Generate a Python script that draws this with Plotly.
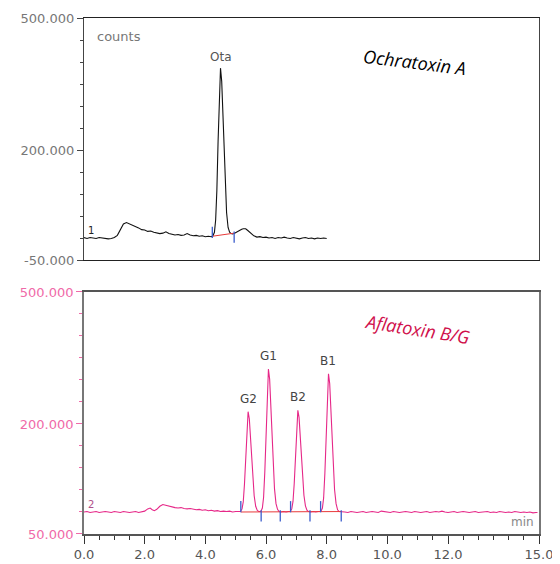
import plotly.graph_objects as go

# ---------------- data ----------------
# Ochratoxin A chromatogram (top), time in min, signal in counts (x1000)
OTA_T = [0.0, 0.1, 0.2, 0.3, 0.4, 0.5, 0.6, 0.7, 0.8, 0.9, 1.0, 1.1, 1.2, 1.3, 1.4, 1.5,
         1.6, 1.7, 1.8, 1.9, 2.0, 2.1, 2.2, 2.3, 2.4, 2.5, 2.6, 2.7, 2.8, 2.9, 3.0, 3.1,
         3.2, 3.3, 3.4, 3.5, 3.6, 3.7, 3.8, 3.9, 4.0, 4.1, 4.2, 4.25, 4.30, 4.34, 4.38,
         4.42, 4.46, 4.50, 4.54, 4.58, 4.62, 4.66, 4.70, 4.75, 4.80, 4.85, 4.90, 4.95,
         5.00, 5.05, 5.10, 5.15, 5.20, 5.25, 5.33, 5.40, 5.50, 5.60, 5.70, 5.80, 5.90,
         6.0, 6.1, 6.2, 6.3, 6.4, 6.5, 6.6, 6.7, 6.8, 6.9, 7.0, 7.1, 7.2, 7.3, 7.4, 7.5,
         7.6, 7.7, 7.8, 7.9, 8.0]
OTA_V = [1, -1, 1, 0, -1, 1, 0, -1, -2, -1, 1, 6, 19, 32, 35, 32,
         30, 26, 23, 19, 18, 15, 16, 13, 12, 10, 11, 14, 10, 9, 7, 8,
         6, 7, 10, 7, 5, 6, 4, 5, 3, 4, 3, 5, 13, 41, 108,
         219, 334, 386, 356, 281, 191, 111, 58, 24, 13, 10, 9, 10,
         12, 14, 17, 19, 20, 21, 21, 17, 10, 5, 2, 3, 1,
         2, 0, 1, -1, 1, 0, 2, 0, -1, 1, 0, -2, 0, 1, -1, 0,
         -2, 0, -1, 0, -1]

# Aflatoxin B/G chromatogram (bottom)
AFL_T = [0.0, 0.1, 0.2, 0.3, 0.4, 0.5, 0.6, 0.7, 0.8, 0.9, 1.0, 1.1, 1.2, 1.3, 1.4, 1.5,
         1.6, 1.7, 1.8, 1.9, 2.0, 2.1, 2.18, 2.25, 2.32, 2.4, 2.5, 2.6, 2.7, 2.8, 2.9,
         3.0, 3.1, 3.2, 3.3, 3.4, 3.5, 3.6, 3.7, 3.8, 3.9, 4.0, 4.1, 4.2, 4.3, 4.4, 4.5,
         4.6, 4.7, 4.8, 4.9, 5.0, 5.1,
         5.16, 5.21, 5.25, 5.29, 5.33, 5.37, 5.41, 5.45, 5.49, 5.53, 5.57, 5.61, 5.66,
         5.71, 5.76,
         5.83, 5.88, 5.92, 5.96, 6.00, 6.04, 6.08, 6.12, 6.16, 6.20, 6.24, 6.28, 6.33,
         6.38, 6.43, 6.50, 6.58, 6.66, 6.74,
         6.80, 6.85, 6.89, 6.93, 6.97, 7.01, 7.05, 7.09, 7.13, 7.17, 7.21, 7.25, 7.30,
         7.35, 7.40, 7.48, 7.56, 7.64, 7.72,
         7.81, 7.86, 7.90, 7.94, 7.98, 8.02, 8.06, 8.10, 8.14, 8.18, 8.22, 8.26, 8.31,
         8.36, 8.41, 8.5,
         8.6, 8.7, 8.8, 8.9, 9.0, 9.1, 9.2, 9.3, 9.4, 9.5, 9.6, 9.7, 9.8, 9.9, 10.0,
         10.1, 10.2, 10.3, 10.4, 10.5, 10.6, 10.7, 10.8, 10.9, 11.0, 11.1, 11.2, 11.3,
         11.4, 11.5, 11.6, 11.7, 11.8, 11.9, 12.0, 12.1, 12.2, 12.3, 12.4, 12.5, 12.6,
         12.7, 12.8, 12.9, 13.0, 13.1, 13.2, 13.3, 13.4, 13.5, 13.6, 13.7, 13.8, 13.9,
         14.0, 14.1, 14.2, 14.3, 14.4, 14.5, 14.6, 14.7, 14.8, 14.9, 14.95]
AFL_V = [0, 1, -1, 0, 1, -1, 0, 1, 0, -1, 1, 0, -1, 1, 0, -1,
         0, 1, -1, 0, 2, 7, 9, 5, 3, 6, 13, 17, 15, 13, 11,
         10, 9, 10, 8, 7, 8, 6, 5, 6, 4, 5, 3, 4, 2, 3, 1,
         2, 1, 2, 0, 1, 0,
         1, 7, 23, 63, 129, 198, 228, 212, 171, 119, 71, 37, 13,
         4, 1,
         1, 9, 33, 90, 184, 282, 325, 302, 243, 169, 102, 53, 19,
         6, 1, 0, 1, 0, 1,
         1, 7, 24, 64, 131, 200, 231, 215, 173, 120, 72, 38, 14,
         4, 1, 0, 1, 0, 1,
         1, 9, 32, 87, 178, 272, 314, 292, 235, 163, 98, 51, 19,
         5, 1, 1,
         0, -1, 1, 0, -1, 0, 1, -1, 0, 1, 0, -1, 2, 1, 0,
         -1, 1, 0, -1, 0, 1, 0, -1, 1, 0, -1, 0, 1,
         -1, 0, 1, 0, 2, 0, -1, 0, 1, -1, 0, 1, 0,
         -1, 0, 1, -1, 0, 0, 1, -1, 0, -1, 1, 0, -1,
         0, -1, 1, 0, -1, 0, -1, 0, -2, -1, -1]

# integration marks (peak start / end times) and baselines
OTA_STARTS = [4.23]
OTA_ENDS = [4.95]
OTA_BASE_T = [4.23, 4.95]
OTA_BASE_V = [4, 11]

AFL_STARTS = [5.17, 6.81, 7.80]
AFL_ENDS = [5.84, 6.47, 7.45, 8.48]
AFL_BASE_T = [5.17, 8.48]
AFL_BASE_V = [0, 1]

# peak labels
OTA_PEAK = ("Ota", 4.51, 386)
AFL_PEAKS = [("G2", 5.41, 228), ("G1", 6.08, 325), ("B2", 7.05, 231), ("B1", 8.06, 314)]

Y_TICKVALS = [500, 200, -50]
TOP_TICKTEXT = ["500.000", "200.000", "-50.000"]
BOT_TICKTEXT = ["500.000", "200.000", "50.000"]
X_TICKVALS = [0, 2, 4, 6, 8, 10, 12, 15]
X_TICKTEXT = ["0.0", "2.0", "4.0", "6.0", "8.0", "10.0", "12.0", "15.0"]

# ---------------- styling ----------------
BLACK = "#111111"
PINK = "#e62888"
PINK_LABEL = "#f06aa8"
BLUE = "#3a5ccc"
RED = "#e83a3a"
FONT = "DejaVu Sans"
MARK_OFF = 9

fig = go.Figure()

# top chromatogram
fig.add_trace(go.Scatter(x=OTA_T, y=OTA_V, mode="lines", line=dict(color=BLACK, width=1.1),
                         xaxis="x", yaxis="y", showlegend=False, hoverinfo="skip"))
fig.add_trace(go.Scatter(x=OTA_BASE_T, y=OTA_BASE_V, mode="lines", line=dict(color=RED, width=1),
                         xaxis="x", yaxis="y", showlegend=False))
fig.add_trace(go.Scatter(x=OTA_STARTS, y=[v + MARK_OFF for v in OTA_BASE_V[:1]], mode="markers",
                         marker=dict(symbol="line-ns", size=8, line=dict(color=BLUE, width=1.3)),
                         xaxis="x", yaxis="y", showlegend=False))
fig.add_trace(go.Scatter(x=OTA_ENDS, y=[v - MARK_OFF for v in OTA_BASE_V[1:]], mode="markers",
                         marker=dict(symbol="line-ns", size=8, line=dict(color=BLUE, width=1.3)),
                         xaxis="x", yaxis="y", showlegend=False))

# bottom chromatogram
fig.add_trace(go.Scatter(x=AFL_T, y=AFL_V, mode="lines", line=dict(color=PINK, width=1.1),
                         xaxis="x2", yaxis="y2", showlegend=False, hoverinfo="skip"))
fig.add_trace(go.Scatter(x=AFL_BASE_T, y=AFL_BASE_V, mode="lines", line=dict(color=RED, width=1),
                         xaxis="x2", yaxis="y2", showlegend=False))
fig.add_trace(go.Scatter(x=AFL_STARTS, y=[MARK_OFF + 3] * len(AFL_STARTS), mode="markers",
                         marker=dict(symbol="line-ns", size=8, line=dict(color=BLUE, width=1.3)),
                         xaxis="x2", yaxis="y2", showlegend=False))
fig.add_trace(go.Scatter(x=AFL_ENDS, y=[-MARK_OFF] * len(AFL_ENDS), mode="markers",
                         marker=dict(symbol="line-ns", size=8, line=dict(color=BLUE, width=1.3)),
                         xaxis="x2", yaxis="y2", showlegend=False))

annotations = []
annotations.append(dict(text=OTA_PEAK[0], x=OTA_PEAK[1], y=OTA_PEAK[2], xref="x", yref="y",
                        yanchor="bottom", yshift=2, showarrow=False,
                        font=dict(family=FONT, size=12, color="#555555")))
for name, t, v in AFL_PEAKS:
    annotations.append(dict(text=name, x=t, y=v, xref="x2", yref="y2", yanchor="bottom",
                            yshift=4, showarrow=False,
                            font=dict(family=FONT, size=12, color="#444444")))
annotations += [
    dict(text="counts", x=0.35, y=458, xref="x", yref="y", xanchor="left", showarrow=False,
         font=dict(family=FONT, size=13, color="#777777")),
    dict(text="1", x=0.05, y=17, xref="x", yref="y", xanchor="left", showarrow=False,
         font=dict(family=FONT, size=10, color="#222222")),
    dict(text="2", x=0.05, y=16, xref="x2", yref="y2", xanchor="left", showarrow=False,
         font=dict(family=FONT, size=10, color="#b0508a")),
    dict(text="min", x=14.45, y=-23, xref="x2", yref="y2", showarrow=False,
         font=dict(family=FONT, size=12, color="#888888")),
    dict(text="<i>Ochratoxin A</i>", x=10.9, y=399, xref="x", yref="y", showarrow=False,
         textangle=7, font=dict(family="Open Sans", size=18, color="#000000")),
    dict(text="<i>Aflatoxin B/G</i>", x=10.99, y=416, xref="x2", yref="y2", showarrow=False,
         textangle=9, font=dict(family="Open Sans", size=18, color="#d0104c")),
]

# the page body adds an 8px offset, so the figure is 8px smaller and margins shifted
fig.update_layout(
    width=552, height=556,
    margin=dict(l=76, r=21, t=10, b=30, autoexpand=False),
    paper_bgcolor="white", plot_bgcolor="white",
    font=dict(family=FONT, size=13, color="#666666"),
    showlegend=False,
    annotations=annotations,
    xaxis=dict(domain=[0, 1], range=[0, 15], anchor="y", showticklabels=False, ticks="",
               showline=True, linecolor="#222222", linewidth=1, mirror=True,
               showgrid=False, zeroline=False, automargin=False),
    yaxis=dict(domain=[0.531, 1.0], range=[-50, 500], anchor="x", automargin=False,
               tickmode="array", tickvals=Y_TICKVALS, ticktext=TOP_TICKTEXT,
               ticks="outside", ticklen=6, tickcolor="#444444", tickwidth=1,
               minor=dict(tickmode="linear", tick0=0, dtick=50, ticks="outside",
                          ticklen=3, tickcolor="#444444"),
               tickfont=dict(family=FONT, size=13, color="#777777"),
               showline=True, linecolor="#444444", linewidth=1.2, mirror=True,
               showgrid=False, zeroline=False),
    xaxis2=dict(domain=[0, 1], range=[0, 15], anchor="y2", automargin=False,
                tickmode="array", tickvals=X_TICKVALS, ticktext=X_TICKTEXT,
                ticks="outside", ticklen=8, tickcolor="#333333", tickwidth=1,
                minor=dict(tickmode="linear", tick0=0, dtick=0.5, ticks="outside",
                           ticklen=4, tickcolor="#333333"),
                tickfont=dict(family=FONT, size=13, color="#555555"),
                showline=True, linecolor="#555555", linewidth=1.5, mirror=True,
                showgrid=False, zeroline=False),
    yaxis2=dict(domain=[0, 0.469], range=[-50, 500], anchor="x2", automargin=False,
                tickmode="array", tickvals=Y_TICKVALS, ticktext=BOT_TICKTEXT,
                ticks="outside", ticklen=6, tickcolor=PINK_LABEL, tickwidth=1.2,
                minor=dict(tickmode="linear", tick0=0, dtick=50, ticks="outside",
                           ticklen=3, tickcolor=PINK_LABEL),
                tickfont=dict(family=FONT, size=13, color=PINK_LABEL),
                showline=True, linecolor="#777777", linewidth=1.8, mirror=True,
                showgrid=False, zeroline=False),
)

fig.write_html("out.html")
